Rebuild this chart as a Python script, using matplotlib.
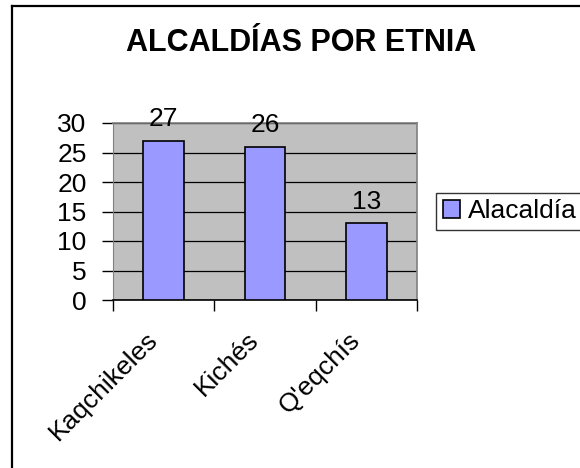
import matplotlib.pyplot as plt
from matplotlib.lines import Line2D
from matplotlib.transforms import ScaledTranslation

categories = ["Kaqchikeles", "Kichés", "Q'eqchís"]
values = [27, 26, 13]
series_name = "Alacaldía"
title = "ALCALDÍAS POR ETNIA"

plt.rcParams["font.family"] = ["Liberation Sans", "DejaVu Sans"]

fig = plt.figure(figsize=(5.8, 4.68), dpi=100)

# outer chart frame (only left and top edges are visible)
fig.add_artist(Line2D([12 / 580, 12 / 580], [0, 1 - 6 / 468], color="black", lw=1.6))
fig.add_artist(Line2D([12 / 580, 1], [1 - 6 / 468, 1 - 6 / 468], color="black", lw=1.6))

ax = fig.add_axes([113 / 580, 168 / 468, 304 / 580, 177 / 468])
ax.set_facecolor("#C0C0C0")
x = list(range(len(categories)))
bars = ax.bar(x, values, width=0.4, color="#9999FF", edgecolor="black",
              linewidth=1.2, label=series_name, zorder=3)
ax.bar_label(bars, labels=[str(v) for v in values], padding=7, fontsize=19)

ax.set_xlim(-0.5, len(categories) - 0.5)
ax.set_ylim(0, 30)
ax.set_yticks(range(0, 31, 5))
ax.yaxis.grid(True, color="black", lw=0.9, zorder=0)
ax.set_axisbelow(True)

ax.set_xticks([i - 0.5 for i in range(len(categories) + 1)])
ax.set_xticklabels([])
ax.set_xticks(x, minor=True)
ax.set_xticklabels(categories, minor=True, rotation=45, ha="right",
                   va="center", rotation_mode="anchor", fontsize=19)
ax.tick_params(axis="x", which="major", length=8, width=1, direction="out")
ax.tick_params(axis="x", which="minor", length=0, pad=26)
ax.tick_params(axis="y", length=8, width=1, pad=11, labelsize=19)
shift = ScaledTranslation(-10 / 100, 0, fig.dpi_scale_trans)
for lbl in ax.get_xticklabels(minor=True):
    lbl.set_transform(lbl.get_transform() + shift)

for side in ["top", "right"]:
    ax.spines[side].set_color("#808080")
    ax.spines[side].set_linewidth(1.2)
ax.spines["left"].set_color("#808080")
ax.spines["bottom"].set_color("black")
ax.spines["bottom"].set_linewidth(1.2)

fig.text(301 / 580, 1 - 43 / 468, title, ha="center", va="center",
         fontsize=22, fontweight="bold")

leg = fig.legend(loc="center left", bbox_to_anchor=(436 / 580, 1 - 211.5 / 468),
                 fontsize=19, frameon=True, fancybox=False, shadow=False,
                 handlelength=0.65, handleheight=0.65, handletextpad=0.3,
                 borderpad=0.25, borderaxespad=0)
leg.get_frame().set_edgecolor("black")
leg.get_frame().set_linewidth(1.0)

fig.savefig("out.png", dpi=100)
